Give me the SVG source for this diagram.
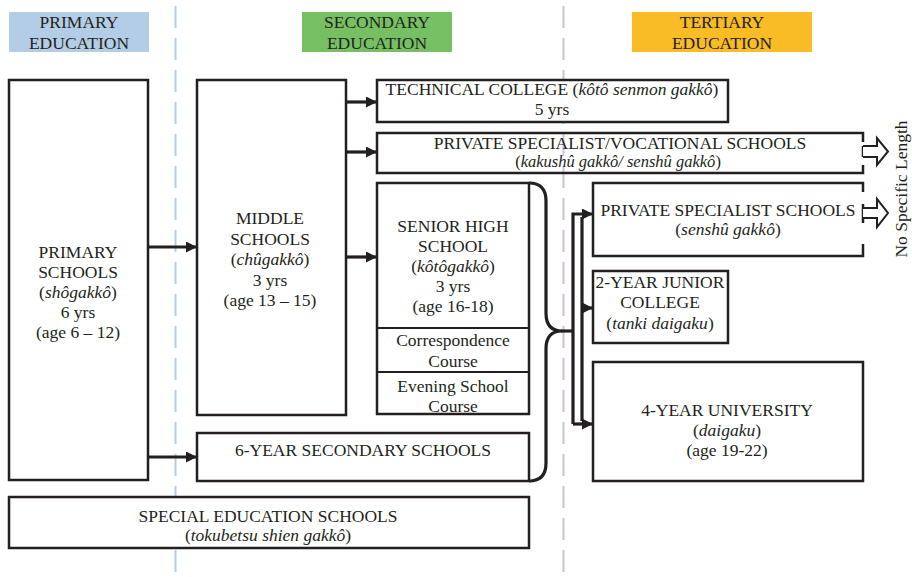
<svg xmlns="http://www.w3.org/2000/svg" width="912" height="577" viewBox="0 0 912 577">
<defs>
<style>
text{font-family:"Liberation Serif","Times New Roman",serif;font-size:17.5px;fill:#231f20;text-anchor:middle}
.it{font-style:italic}
.box{fill:#fff;stroke:#231f20;stroke-width:2.5}
.sub{fill:none;stroke:#231f20;stroke-width:2}
.ln{fill:none;stroke:#231f20;stroke-width:3.2}
.edge{fill:none;stroke:#231f20;stroke-width:2.5}
.hol{fill:#fff;stroke:#231f20;stroke-width:2}
.tight{font-size:16.5px}
</style>
<marker id="ah" viewBox="0 0 10 10" refX="10" refY="5" markerWidth="11" markerHeight="11" markerUnits="userSpaceOnUse" orient="auto">
<path d="M0,0 L10,5 L0,10 Z" fill="#231f20"/>
</marker>
</defs>
<rect width="912" height="577" fill="#fff"/>

<g id="dividers">
<line x1="175.5" y1="6" x2="175.5" y2="577" stroke="#b3cde8" stroke-width="2" stroke-dasharray="22 10"/>
<line x1="563.5" y1="6" x2="563.5" y2="577" stroke="#c8c2dc" stroke-width="2" stroke-dasharray="22 10"/>
</g>

<g id="hdr-primary">
<rect x="9" y="12" width="140" height="40" fill="#b3cde6"/>
<text x="79" y="28">PRIMARY</text>
<text x="79" y="49">EDUCATION</text>
</g>
<g id="hdr-secondary">
<rect x="302" y="12" width="150" height="40" fill="#77bf63"/>
<text x="377" y="28">SECONDARY</text>
<text x="377" y="49">EDUCATION</text>
</g>
<g id="hdr-tertiary">
<rect x="632" y="12" width="180" height="40" fill="#f9bb26"/>
<text x="722" y="28">TERTIARY</text>
<text x="722" y="49">EDUCATION</text>
</g>

<g id="primary">
<rect class="box" x="9" y="80" width="139" height="400"/>
<text x="78" y="258">PRIMARY</text>
<text x="78" y="278">SCHOOLS</text>
<text x="78" y="298">(<tspan class="it">shôgakkô</tspan>)</text>
<text x="78" y="318">6 yrs</text>
<text x="78" y="338">(age 6 – 12)</text>
</g>

<g id="middle">
<rect class="box" x="197" y="80" width="149" height="335"/>
<text x="270" y="224">MIDDLE</text>
<text x="270" y="245">SCHOOLS</text>
<text x="270" y="265">(<tspan class="it">chûgakkô</tspan>)</text>
<text x="270" y="286">3 yrs</text>
<text x="270" y="306">(age 13 – 15)</text>
</g>

<g id="technical">
<rect class="box" x="377" y="80" width="351" height="42"/>
<text x="552" y="95">TECHNICAL COLLEGE (<tspan class="it">kôtô senmon gakkô</tspan>)</text>
<text x="552" y="115">5 yrs</text>
</g>

<g id="vocational">
<path class="edge" d="M863,142 V133 H377 V173 H863 V165"/>
<line class="edge" x1="863" y1="146" x2="863" y2="157"/>
<path class="hol" d="M863,146 H877 V138 L888,151.5 L877,165 V157 H863"/>
<text x="620" y="149">PRIVATE SPECIALIST/VOCATIONAL SCHOOLS</text>
<text class="tight" x="618" y="167">(<tspan class="it">kakushû gakkô/ senshû gakkô</tspan>)</text>
</g>

<g id="senior">
<rect class="box" x="377" y="183" width="152" height="231"/>
<line class="sub" x1="377" y1="328" x2="529" y2="328"/>
<line class="sub" x1="377" y1="372" x2="529" y2="372"/>
<text x="453" y="232">SENIOR HIGH</text>
<text x="453" y="252">SCHOOL</text>
<text x="453" y="272">(<tspan class="it">kôtôgakkô</tspan>)</text>
<text x="453" y="292">3 yrs</text>
<text x="453" y="312">(age 16-18)</text>
<text x="453" y="346">Correspondence</text>
<text x="453" y="367">Course</text>
<text x="453" y="392">Evening School</text>
<text x="453" y="412">Course</text>
</g>

<g id="six-year">
<rect class="box" x="197" y="433" width="332" height="48"/>
<text x="363" y="456">6-YEAR SECONDARY SCHOOLS</text>
</g>

<g id="private-specialist">
<path class="edge" d="M863,192 V183 H593 V256 H863 V244"/>
<line class="edge" x1="863" y1="204" x2="863" y2="223"/>
<path class="hol" d="M863,208 H877 V199 L888,213 L877,227 V218 H863"/>
<text x="728" y="216">PRIVATE SPECIALIST SCHOOLS</text>
<text x="728" y="235">(<tspan class="it">senshû gakkô</tspan>)</text>
</g>

<g id="junior">
<rect class="box" x="593" y="271" width="135" height="72"/>
<text x="660" y="288">2-YEAR JUNIOR</text>
<text x="660" y="308">COLLEGE</text>
<text x="660" y="329">(<tspan class="it">tanki daigaku</tspan>)</text>
</g>

<g id="university">
<rect class="box" x="593" y="362" width="270" height="119"/>
<text x="727" y="416">4-YEAR UNIVERSITY</text>
<text x="727" y="436">(<tspan class="it">daigaku</tspan>)</text>
<text x="727" y="456">(age 19-22)</text>
</g>

<g id="special">
<rect class="box" x="9" y="497" width="520" height="51"/>
<text x="268" y="522">SPECIAL EDUCATION SCHOOLS</text>
<text x="268" y="541">(<tspan class="it">tokubetsu shien gakkô</tspan>)</text>
</g>

<g id="note">
<text transform="translate(907,189) rotate(-90)">No Specific Length</text>
</g>

<g id="connectors">
<line class="ln" x1="148" y1="247" x2="197" y2="247" marker-end="url(#ah)"/>
<line class="ln" x1="148" y1="457" x2="197" y2="457" marker-end="url(#ah)"/>
<line class="ln" x1="346" y1="102" x2="377" y2="102" marker-end="url(#ah)"/>
<line class="ln" x1="346" y1="152" x2="377" y2="152" marker-end="url(#ah)"/>
<line class="ln" x1="346" y1="257" x2="377" y2="257" marker-end="url(#ah)"/>
<path class="ln" d="M529,183 Q546,183 546,201 V313 Q546,331 562,331 Q546,331 546,349 V463 Q546,481 529,481"/>
<line class="ln" x1="561" y1="331" x2="573" y2="331"/>
<path class="ln" d="M573,424 V214 H593" marker-end="url(#ah)"/>
<line class="ln" x1="573" y1="424" x2="593" y2="424" marker-end="url(#ah)"/>
<line class="ln" x1="582" y1="217" x2="582" y2="421"/>
<line class="ln" x1="582" y1="308" x2="593" y2="308" marker-end="url(#ah)"/>
</g>
</svg>
